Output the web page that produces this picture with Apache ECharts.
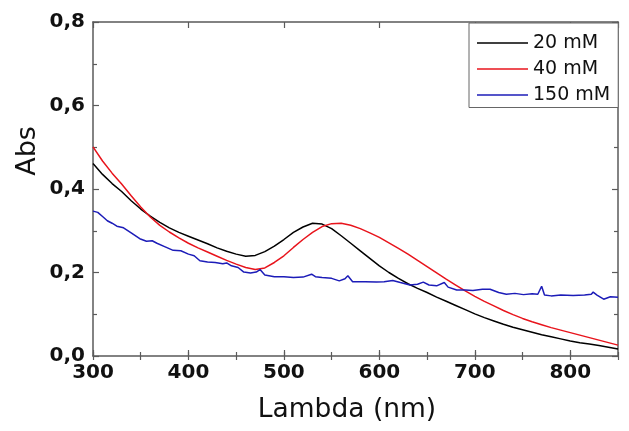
<!DOCTYPE html>
<html>
<head>
<meta charset="utf-8">
<script src="https://cdn.jsdelivr.net/npm/echarts/dist/echarts.min.js"></script>
<style>
html,body{margin:0;padding:0;background:#fff;}
#chart{width:629px;height:431px;}
</style>
</head>
<body>
<div id="chart"></div>
<script>
// Wavelengths (nm) shared by the 20 mM and 40 mM spectra
var lambdaAB = [300,310,320,330,340,350,360,370,380,390,400,410,420,430,440,450,460,470,480,490,500,510,520,530,540,550,560,570,580,590,600,610,620,630,640,650,660,670,680,690,700,710,720,730,740,750,760,770,780,790,800,810,820,830,840,850];
var abs20 = [0.461,0.435,0.413,0.394,0.372,0.352,0.335,0.320,0.307,0.296,0.287,0.278,0.269,0.259,0.251,0.244,0.239,0.241,0.250,0.263,0.279,0.296,0.309,0.318,0.316,0.305,0.288,0.270,0.252,0.234,0.216,0.200,0.186,0.173,0.162,0.152,0.141,0.131,0.121,0.111,0.101,0.092,0.084,0.076,0.069,0.063,0.057,0.051,0.046,0.041,0.036,0.032,0.029,0.025,0.021,0.017];
var abs40 = [0.501,0.467,0.438,0.412,0.384,0.357,0.333,0.313,0.297,0.283,0.270,0.259,0.249,0.239,0.229,0.220,0.212,0.207,0.211,0.224,0.240,0.260,0.279,0.296,0.310,0.317,0.318,0.313,0.305,0.295,0.284,0.271,0.258,0.244,0.229,0.214,0.199,0.184,0.170,0.156,0.143,0.131,0.120,0.109,0.099,0.090,0.082,0.075,0.068,0.062,0.056,0.050,0.044,0.038,0.032,0.026];
// 150 mM spectrum (own wavelength list, to keep its small spikes)
var lambda150 = [300,305,310,315,320,325,332,340,349,356,362,367,375,384,392,400,406,412,420,428,436,440,445,452,458,465,471,475,480,490,500,510,520,529,533,540,550,558,564,567,572,585,597,605,614,622,632,640,646,652,660,668,672,681,690,698,708,716,725,733,742,751,760,766,770,773,780,790,803,815,822,824,828,835,842,850];
var abs150 = [0.347,0.344,0.334,0.324,0.318,0.311,0.307,0.295,0.281,0.275,0.276,0.270,0.262,0.253,0.252,0.244,0.240,0.228,0.225,0.224,0.221,0.223,0.216,0.212,0.201,0.199,0.201,0.207,0.194,0.190,0.190,0.188,0.189,0.196,0.190,0.188,0.186,0.180,0.185,0.192,0.178,0.178,0.177,0.178,0.181,0.176,0.170,0.172,0.177,0.170,0.168,0.176,0.165,0.158,0.158,0.157,0.160,0.160,0.152,0.148,0.150,0.147,0.149,0.148,0.167,0.146,0.144,0.146,0.145,0.146,0.148,0.153,0.146,0.136,0.142,0.141];
var seriesNames = ['20 mM','40 mM','150 mM'];
var seriesColors = ['#000000','#e8141c','#1c1cb8'];
var xTitle = 'Lambda (nm)';
var yTitle = 'Abs';

function pairs(xs, ys){ return xs.map(function(x,i){ return [x, ys[i]]; }); }

var chart = echarts.init(document.getElementById('chart'), null, {renderer:'canvas'});
var frame = {show:true, onZero:false, lineStyle:{color:'#5a5a5a', width:1.5}};
var tickStyle = {color:'#5a5a5a', width:1.2};
var labelFont = {fontFamily:'DejaVu Sans', fontWeight:'bold', fontSize:20, color:'#111'};

var option = {
  animation:false,
  backgroundColor:'#fff',
  grid:{left:93, right:11, top:22, bottom:75, containLabel:false},
  xAxis:[
    {type:'value', position:'bottom', min:300, max:850, interval:100,
     axisLine:frame, splitLine:{show:false},
     axisTick:{show:true, inside:true, length:6, lineStyle:tickStyle},
     axisLabel:Object.assign({show:true, margin:7, showMaxLabel:false}, labelFont)},
    {type:'value', position:'bottom', min:300, max:850, interval:50,
     axisLine:{show:false}, splitLine:{show:false},
     axisTick:{show:true, inside:true, length:4, lineStyle:tickStyle},
     axisLabel:{show:false}},
    {type:'value', position:'top', min:300, max:850, interval:100,
     axisLine:frame, splitLine:{show:false},
     axisTick:{show:true, inside:true, length:6, lineStyle:tickStyle},
     axisLabel:{show:false}},
    {type:'value', position:'top', min:300, max:850, interval:50,
     axisLine:{show:false}, splitLine:{show:false},
     axisTick:{show:true, inside:true, length:4, lineStyle:tickStyle},
     axisLabel:{show:false}}
  ],
  yAxis:[
    {type:'value', position:'left', min:0, max:0.8, interval:0.2,
     axisLine:frame, splitLine:{show:false},
     axisTick:{show:true, inside:true, length:6, lineStyle:tickStyle},
     minorTick:{show:true, splitNumber:2, length:4, lineStyle:tickStyle},
     axisLabel:Object.assign({show:true, margin:8, formatter:function(v){ return v.toFixed(1).replace('.', ','); }}, labelFont)},
    {type:'value', position:'right', min:0, max:0.8, interval:0.2,
     axisLine:frame, splitLine:{show:false},
     axisTick:{show:true, inside:true, length:6, lineStyle:tickStyle},
     minorTick:{show:true, splitNumber:2, length:4, lineStyle:tickStyle},
     axisLabel:{show:false}}
  ],
  legend:{
    orient:'vertical', left:469, top:23,
    padding:[10.5,8,3,8],
    icon:'rect',
    itemWidth:51, itemHeight:1.5, itemGap:7,
    borderColor:'#666', borderWidth:1, backgroundColor:'#fff',
    textStyle:{fontFamily:'DejaVu Sans', fontSize:19, lineHeight:19, color:'#111'},
    data:seriesNames
  },
  graphic:[
    {type:'text', x:28, y:151, rotation:Math.PI/2,
     style:{text:yTitle, font:'27px "DejaVu Sans"', fill:'#111', textAlign:'center', textVerticalAlign:'middle'}},
    {type:'text', x:347, y:410,
     style:{text:xTitle, font:'26.5px "DejaVu Sans"', fill:'#111', textAlign:'center', textVerticalAlign:'middle'}}
  ],
  series:[
    {name:seriesNames[0], type:'line', xAxisIndex:0, yAxisIndex:0, symbol:'none', data:pairs(lambdaAB, abs20),
     lineStyle:{color:seriesColors[0], width:1.5}, itemStyle:{color:seriesColors[0]}},
    {name:seriesNames[1], type:'line', xAxisIndex:0, yAxisIndex:0, symbol:'none', data:pairs(lambdaAB, abs40),
     lineStyle:{color:seriesColors[1], width:1.5}, itemStyle:{color:seriesColors[1]}},
    {name:seriesNames[2], type:'line', xAxisIndex:0, yAxisIndex:0, symbol:'none', data:pairs(lambda150, abs150),
     lineStyle:{color:seriesColors[2], width:1.5}, itemStyle:{color:seriesColors[2]}}
  ]
};
chart.setOption(option);
</script>
</body>
</html>
